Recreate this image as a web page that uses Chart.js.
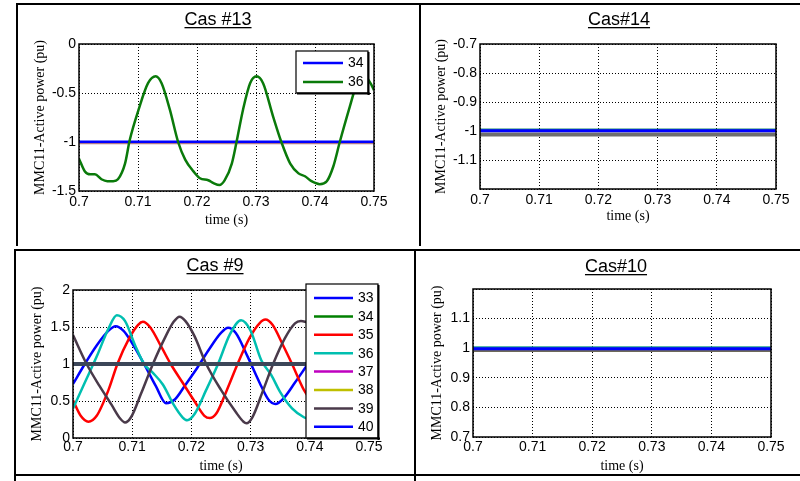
<!DOCTYPE html>
<html>
<head>
<meta charset="utf-8">
<script src="https://cdn.jsdelivr.net/npm/chart.js@4.4.1/dist/chart.umd.min.js"></script>
<style>
  body { margin: 0; background: #fff; width: 800px; height: 481px; position: relative; overflow: hidden; }
  canvas { position: absolute; }
  .rule { position: absolute; background: #000; }
</style>
</head>
<body>
<div class="rule" style="left:17px;top:3px;width:783px;height:2px"></div>
<div class="rule" style="left:16px;top:3px;width:2px;height:243px"></div>
<div class="rule" style="left:419px;top:3px;width:2px;height:243px"></div>
<div class="rule" style="left:14px;top:249px;width:786px;height:2px"></div>
<div class="rule" style="left:14px;top:249px;width:2px;height:232px"></div>
<div class="rule" style="left:414px;top:249px;width:2px;height:232px"></div>
<div class="rule" style="left:14px;top:474px;width:786px;height:2px"></div>

<canvas id="cas13" width="401" height="240" style="left:18px;top:5px"></canvas>
<canvas id="cas14" width="379" height="240" style="left:421px;top:5px"></canvas>
<canvas id="cas9" width="398" height="222" style="left:16px;top:252px"></canvas>
<canvas id="cas10" width="383" height="222" style="left:417px;top:252px"></canvas>

<script>
// ---- data ----
const xTicks = [0.7, 0.71, 0.72, 0.73, 0.74, 0.75];
const flatT = [0.7, 0.75];

// Cas #13
const t13 = [0.7, 0.701, 0.7019, 0.7027, 0.7038, 0.7048, 0.7058, 0.7066, 0.7078, 0.7086, 0.7101, 0.7117, 0.7130, 0.7140,
  0.7154, 0.7168, 0.7180, 0.7194, 0.7205, 0.7219, 0.7228, 0.7238, 0.7247, 0.7259, 0.7267, 0.7278, 0.7290, 0.7301,
  0.7312, 0.7329, 0.7343, 0.7358, 0.7372, 0.7383, 0.7394, 0.7408, 0.7420, 0.7431, 0.7442, 0.7459, 0.7470, 0.7478,
  0.7486, 0.7494, 0.75];
const p13_36 = [-1.17, -1.30, -1.33, -1.33, -1.38, -1.40, -1.40, -1.38, -1.22, -0.98, -0.67, -0.40, -0.33, -0.40,
  -0.67, -1.00, -1.18, -1.30, -1.37, -1.39, -1.42, -1.44, -1.39, -1.22, -1.00, -0.67, -0.40, -0.33,
  -0.40, -0.74, -1.00, -1.22, -1.32, -1.35, -1.40, -1.43, -1.40, -1.25, -1.00, -0.64, -0.42, -0.35,
  -0.34, -0.40, -0.47];
const p13_34 = [-0.998, -0.998];
const p13_other = [-1.012, -1.012];

// Cas#14
const p14_a = [-0.995, -0.995];
const p14_b = [-0.999, -0.999];
const p14_c = [-1.012, -1.012];

// Cas #9
const t9_33 = [0.7, 0.702, 0.704, 0.706, 0.7072, 0.7085, 0.71, 0.712, 0.714, 0.7157, 0.7172, 0.719, 0.721, 0.723,
  0.725, 0.7262, 0.7275, 0.7295, 0.7315, 0.733, 0.7342, 0.7355, 0.7375, 0.7395, 0.741];
const p9_33 = [0.73, 1.0, 1.25, 1.45, 1.51, 1.45, 1.28, 1.0, 0.7, 0.47, 0.52, 0.72, 0.95, 1.2,
  1.42, 1.49, 1.42, 1.1, 0.75, 0.52, 0.46, 0.53, 0.75, 0.98, 1.15];
const t9_35 = [0.7, 0.7013, 0.7026, 0.704, 0.706, 0.7075, 0.7095, 0.711, 0.7118, 0.713, 0.715, 0.7165, 0.7185, 0.7205,
  0.7222, 0.7231, 0.7242, 0.726, 0.7278, 0.7298, 0.7315, 0.7325, 0.7337, 0.7355, 0.737, 0.739, 0.741];
const p9_35 = [0.51, 0.3, 0.22, 0.3, 0.65, 1.0, 1.35, 1.53, 1.57, 1.5, 1.22, 1.0, 0.75, 0.5,
  0.3, 0.27, 0.33, 0.65, 1.0, 1.35, 1.55, 1.6, 1.53, 1.25, 1.0, 0.65, 0.42];
const t9_36 = [0.7, 0.702, 0.704, 0.706, 0.7074, 0.7088, 0.7105, 0.712, 0.7135, 0.7152, 0.717, 0.7185, 0.7193, 0.7205,
  0.7225, 0.7245, 0.7265, 0.7284, 0.73, 0.7318, 0.7335, 0.735, 0.737, 0.739, 0.741];
const p9_36 = [0.4, 0.75, 1.1, 1.48, 1.66, 1.58, 1.25, 1.0, 0.88, 0.72, 0.45, 0.28, 0.24, 0.32,
  0.65, 1.0, 1.4, 1.59, 1.45, 1.05, 0.85, 0.62, 0.4, 0.28, 0.22];
const t9_39 = [0.7, 0.7023, 0.7045, 0.7065, 0.708, 0.7088, 0.7098, 0.7115, 0.7135, 0.7155, 0.717, 0.718, 0.719, 0.7205,
  0.7225, 0.725, 0.7275, 0.7288, 0.7293, 0.7303, 0.732, 0.7338, 0.7358, 0.7375, 0.7385, 0.741];
const p9_39 = [1.39, 1.0, 0.7, 0.45, 0.26, 0.21, 0.28, 0.6, 1.0, 1.35, 1.57, 1.64, 1.58, 1.38,
  1.0, 0.65, 0.35, 0.22, 0.2, 0.28, 0.62, 1.0, 1.35, 1.55, 1.58, 1.52];
const p9_flat = [1.0, 1.0];

// Cas#10
const p10_a = [1.003, 1.003];
const p10_b = [0.998, 0.998];
const p10_c = [0.993, 0.993];

function pts(ts, vs) {
  return ts.map((x, i) => ({ x: x, y: vs[i] }));
}

function line(label, ts, vs, color, width) {
  return {
    label: label, data: pts(ts, vs), borderColor: color, backgroundColor: color,
    borderWidth: width || 2.5, pointRadius: 0, cubicInterpolationMode: 'monotone', fill: false
  };
}

// ---- plugins: axes box, underlined title, framed legend ----
const framePlugin = {
  id: 'frame',
  afterDatasetsDraw(chart) {
    const a = chart.chartArea, ctx = chart.ctx;
    ctx.save();
    ctx.strokeStyle = '#000';
    ctx.lineWidth = 1.5;
    ctx.strokeRect(a.left, a.top, a.right - a.left, a.bottom - a.top);
    ctx.restore();
  },
  afterDraw(chart, args, opts) {
    const ctx = chart.ctx;
    ctx.save();
    if (opts.title) {
      ctx.font = '18px "Liberation Sans", Arial, sans-serif';
      ctx.fillStyle = '#000';
      ctx.textAlign = 'center';
      ctx.textBaseline = 'middle';
      ctx.fillText(opts.title.text, opts.title.x, opts.title.y);
      const w = ctx.measureText(opts.title.text).width;
      ctx.fillRect(opts.title.x - w / 2, opts.title.y + 7, w, 1.3);
    }
    const lg = opts.legend;
    if (lg) {
      const items = chart.data.datasets.filter(d => d.label)
        .sort((a, b) => Number(a.label) - Number(b.label));
      ctx.fillStyle = '#fff';
      ctx.fillRect(lg.x, lg.y, lg.w, lg.h);
      ctx.strokeStyle = '#000';
      ctx.lineWidth = 1.2;
      ctx.strokeRect(lg.x, lg.y, lg.w, lg.h);
      ctx.fillStyle = '#000';
      ctx.fillRect(lg.x + lg.w - 0.5, lg.y + 1, 2, lg.h + 1);
      ctx.fillRect(lg.x + 1, lg.y + lg.h - 0.5, lg.w + 1, 2);
      ctx.font = '14px "Liberation Sans", Arial, sans-serif';
      ctx.textAlign = 'left';
      ctx.textBaseline = 'middle';
      items.forEach((d, i) => {
        const y = lg.y + lg.first + i * lg.gap;
        ctx.strokeStyle = d.borderColor;
        ctx.lineWidth = 2.5;
        ctx.beginPath();
        ctx.moveTo(lg.x + lg.line0, y);
        ctx.lineTo(lg.x + lg.line1, y);
        ctx.stroke();
        ctx.fillStyle = '#000';
        ctx.fillText(d.label, lg.x + lg.text, y + 0.5);
      });
    }
    ctx.restore();
  }
};

function makePanel(p) {
  const c = p.canvas;       // canvas rect on page
  const a = p.area;         // wanted plot rect on page
  const yw = a.l - c.l;
  const xh = 42;
  const lh = 14 * 1.2;
  const rel = r => ({ x: r.x - c.l, y: r.y - c.t, w: r.w, h: r.h });
  const legend = p.legend ? Object.assign(rel(p.legend), p.legendRows) : null;
  // later datasets drawn on top
  p.datasets.forEach((d, i) => { d.order = p.datasets.length - i; });

  new Chart(document.getElementById(p.id), {
    type: 'line',
    data: { datasets: p.datasets },
    options: {
      responsive: false,
      animation: false,
      devicePixelRatio: 1,
      layout: {
        padding: { left: 0, top: a.t - c.t, right: (c.l + c.w) - a.r, bottom: (c.t + c.h) - a.b - xh }
      },
      plugins: {
        legend: { display: false },
        tooltip: { enabled: false },
        frame: {
          title: { text: p.title, x: p.titleX - c.l, y: p.titleY - c.t },
          legend: legend
        }
      },
      scales: {
        x: {
          type: 'linear',
          min: 0.7, max: 0.75,
          afterBuildTicks: s => { s.ticks = xTicks.map(v => ({ value: v })); },
          afterFit: s => { s.height = xh; },
          grid: { color: '#000', lineWidth: 1, drawTicks: false },
          border: { display: false, dash: [1, 2] },
          ticks: {
            padding: p.xTickPad, color: '#000',
            font: { family: '"Liberation Sans", Arial, sans-serif', size: 14 },
            maxRotation: 0,
            callback: v => String(v)
          },
          title: {
            display: true, text: 'time (s)', color: '#000',
            font: { family: '"Liberation Serif", "Times New Roman", serif', size: 14 },
            padding: { top: 0, bottom: xh - p.xTitleDy - lh / 2 }
          }
        },
        y: {
          type: 'linear',
          min: p.yMin, max: p.yMax,
          afterBuildTicks: s => { s.ticks = p.yTicks.map(v => ({ value: v })); },
          afterFit: s => { s.width = yw; },
          grid: { color: '#000', lineWidth: 1, drawTicks: false },
          border: { display: false, dash: [1, 2] },
          ticks: {
            padding: 3, color: '#000',
            font: { family: '"Liberation Sans", Arial, sans-serif', size: 14 },
            callback: v => (p.yHide !== undefined && Math.abs(v - p.yHide) < 1e-9) ? '' : String(v)
          },
          title: {
            display: true, text: 'MMC11-Active power (pu)', color: '#000',
            font: { family: '"Liberation Serif", "Times New Roman", serif', size: 14 },
            padding: { top: (p.yTitleX - c.l) - lh / 2, bottom: 0 }
          }
        }
      }
    },
    plugins: [framePlugin]
  });
}

makePanel({
  id: 'cas13', title: 'Cas #13', titleX: 218, titleY: 20,
  canvas: { l: 18, t: 5, w: 401, h: 240 },
  area: { l: 79, r: 374, t: 44, b: 191 },
  yMin: -1.5, yMax: 0, yTicks: [-1.5, -1, -0.5, 0],
  yTitleX: 40, xTitleDy: 29, xTickPad: 3,
  legend: { x: 296, y: 51, w: 72, h: 42 },
  legendRows: { first: 12, gap: 19, line0: 7, line1: 47, text: 52 },
  datasets: [
    line('', flatT, p13_other, '#b07888', 2),
    line('34', flatT, p13_34, '#0000ff', 2.5),
    line('36', t13, p13_36, '#0a7a0a', 2.5)
  ]
});

makePanel({
  id: 'cas14', title: 'Cas#14', titleX: 619, titleY: 20,
  canvas: { l: 421, t: 5, w: 379, h: 240 },
  area: { l: 480, r: 776, t: 44, b: 189 },
  yMin: -1.2, yMax: -0.7, yTicks: [-1.2, -1.1, -1, -0.9, -0.8, -0.7], yHide: -1.2,
  yTitleX: 441, xTitleDy: 27, xTickPad: 3,
  datasets: [
    line('', flatT, p14_c, '#6e6e6e', 4),
    line('', flatT, p14_a, '#1c8a6e', 2),
    line('', flatT, p14_b, '#0000ff', 3)
  ]
});

makePanel({
  id: 'cas9', title: 'Cas #9', titleX: 215, titleY: 266,
  canvas: { l: 16, t: 252, w: 398, h: 222 },
  area: { l: 73, r: 369, t: 290, b: 438 },
  yMin: 0, yMax: 2, yTicks: [0, 0.5, 1, 1.5, 2],
  yTitleX: 37.5, xTitleDy: 28, xTickPad: 1,
  legend: { x: 306, y: 284, w: 72, h: 154 },
  legendRows: { first: 14, gap: 18.4, line0: 8, line1: 47, text: 52 },
  datasets: [
    line('33', t9_33, p9_33, '#0000ff'),
    line('35', t9_35, p9_35, '#ff0000'),
    line('36', t9_36, p9_36, '#00bfb0'),
    line('39', t9_39, p9_39, '#4a3a4a'),
    line('34', flatT, p9_flat, '#008000'),
    line('37', flatT, p9_flat, '#bf00bf'),
    line('38', flatT, p9_flat, '#bfbf00'),
    line('40', flatT, p9_flat, '#0000ff'),
    line('', flatT, p9_flat, '#3c4658', 4)
  ]
});

makePanel({
  id: 'cas10', title: 'Cas#10', titleX: 616, titleY: 267,
  canvas: { l: 417, t: 252, w: 383, h: 222 },
  area: { l: 473, r: 771, t: 289, b: 437 },
  yMin: 0.7, yMax: 1.2, yTicks: [0.7, 0.8, 0.9, 1, 1.1, 1.2], yHide: 1.2,
  yTitleX: 437.5, xTitleDy: 29, xTickPad: 2,
  datasets: [
    line('', flatT, p10_c, '#6e6a5a', 3.5),
    line('', flatT, p10_a, '#20a090', 2),
    line('', flatT, p10_b, '#0000ff', 3)
  ]
});
</script>
</body>
</html>
